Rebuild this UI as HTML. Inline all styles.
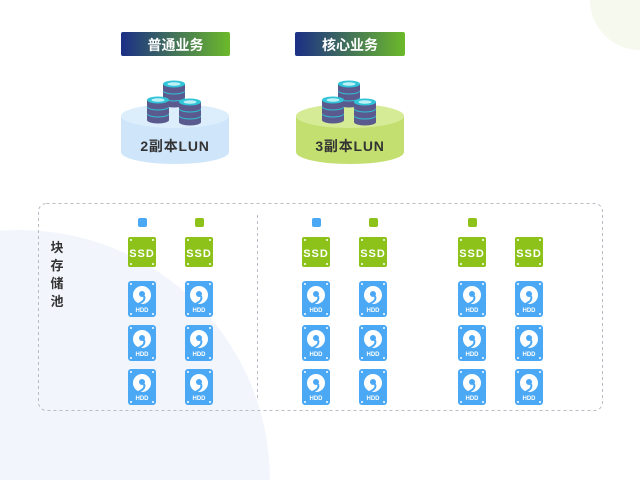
<!DOCTYPE html>
<html><head><meta charset="utf-8"><style>
html,body{margin:0;padding:0;width:640px;height:480px;overflow:hidden;background:#fff;font-family:"Liberation Sans","Noto Sans CJK SC",sans-serif}
svg{display:block}
</style></head><body>
<svg width="640" height="480" viewBox="0 0 640 480" xmlns="http://www.w3.org/2000/svg" font-family="Liberation Sans, Noto Sans CJK SC, sans-serif">
<defs>
<linearGradient id="g" x1="0" x2="1"><stop offset="0" stop-color="#1b2f86"/><stop offset="1" stop-color="#6cb92a"/></linearGradient>
<g id="disc"><path d="M-11,0 v6 a11,3.5 0 0 0 22,0 v-6z" fill="#5b5a8e"/><ellipse cx="0" cy="0" rx="11" ry="3.5" fill="#2fc4d8"/><ellipse cx="0" cy="0" rx="6.5" ry="1.8" fill="#bff0f6"/></g>
<g id="stack"><use href="#disc" y="14"/><use href="#disc" y="7"/><use href="#disc" y="0"/></g>
<g id="ssd"><rect x="-14" y="0" width="28" height="30" rx="2" fill="#8cc21a"/><circle cx="-11" cy="3" r="1" fill="#fff"/><circle cx="11" cy="3" r="1" fill="#fff"/><circle cx="-11" cy="27" r="1" fill="#fff"/><circle cx="11" cy="27" r="1" fill="#fff"/><text x="0" y="20" font-size="11" font-weight="bold" fill="#fff" text-anchor="middle" letter-spacing="1">SSD</text></g>
<g id="hdd"><rect x="-14" y="0" width="28" height="36" rx="3" fill="#4aa8f5"/><circle cx="-11" cy="3" r="1" fill="#fff"/><circle cx="11" cy="3" r="1" fill="#fff"/><circle cx="-11" cy="33" r="1" fill="#fff"/><circle cx="11" cy="33" r="1" fill="#fff"/><circle cx="0" cy="14" r="9" fill="#fff"/><circle cx="0" cy="13" r="3" fill="#4aa8f5"/><path d="M2,15 q2,5 -6,8" stroke="#4aa8f5" stroke-width="2" fill="none"/><text x="0" y="31" font-size="6" font-weight="bold" fill="#fff" text-anchor="middle">HDD</text></g>
</defs>
<path d="M0,230.8 A250,250 0 0 1 270,480 L0,480Z" fill="#f2f6fc"/>
<path d="M590,0 A50,50 0 0 0 640,50 L640,0Z" fill="#f6f9ee"/>
<rect x="121" y="32" width="109" height="24" rx="2" fill="url(#g)"/>
<text x="175.5" y="50" font-size="14" font-weight="bold" fill="#fff" text-anchor="middle">普通业务</text>
<rect x="295" y="32" width="110" height="24" rx="2" fill="url(#g)"/>
<text x="350" y="50" font-size="14" font-weight="bold" fill="#fff" text-anchor="middle">核心业务</text>
<path d="M121,116 v36 a54,12 0 0 0 108,0 v-36z" fill="#cfe5fa"/><ellipse cx="175" cy="116" rx="54" ry="12" fill="#dcedfc"/>
<path d="M296,116 v36 a54,12 0 0 0 108,0 v-36z" fill="#c3df70"/><ellipse cx="350" cy="116" rx="54" ry="12" fill="#d6eb95"/>
<use href="#stack" x="174" y="84"/><use href="#stack" x="158" y="100"/><use href="#stack" x="190" y="102"/>
<use href="#stack" x="349" y="84"/><use href="#stack" x="333" y="100"/><use href="#stack" x="365" y="102"/>
<text x="175" y="151" font-size="14" font-weight="bold" fill="#333" text-anchor="middle" letter-spacing="0.8">2副本LUN</text>
<text x="350" y="151" font-size="14" font-weight="bold" fill="#333" text-anchor="middle" letter-spacing="0.8">3副本LUN</text>
<rect x="38.5" y="203.5" width="564" height="207" rx="8" fill="none" stroke="#b8bcc4" stroke-dasharray="3,3"/>
<line x1="257.5" y1="215" x2="257.5" y2="400" stroke="#b8bcc4" stroke-dasharray="3,3"/>
<g font-size="13" font-weight="bold" fill="#333" text-anchor="middle"><text x="57" y="252">块</text><text x="57" y="270">存</text><text x="57" y="288">储</text><text x="57" y="306">池</text></g>
<rect x="138" y="218" width="9" height="9" rx="2" fill="#4aa8f5"/><rect x="195" y="218" width="9" height="9" rx="2" fill="#8cc21a"/>
<rect x="312" y="218" width="9" height="9" rx="2" fill="#4aa8f5"/><rect x="369" y="218" width="9" height="9" rx="2" fill="#8cc21a"/>
<rect x="468" y="218" width="9" height="9" rx="2" fill="#8cc21a"/>
<g>
<use href="#ssd" x="142" y="237"/><use href="#ssd" x="199" y="237"/><use href="#ssd" x="316" y="237"/><use href="#ssd" x="373" y="237"/><use href="#ssd" x="472" y="237"/><use href="#ssd" x="529" y="237"/>
<use href="#hdd" x="142" y="281"/><use href="#hdd" x="199" y="281"/><use href="#hdd" x="316" y="281"/><use href="#hdd" x="373" y="281"/><use href="#hdd" x="472" y="281"/><use href="#hdd" x="529" y="281"/>
<use href="#hdd" x="142" y="325"/><use href="#hdd" x="199" y="325"/><use href="#hdd" x="316" y="325"/><use href="#hdd" x="373" y="325"/><use href="#hdd" x="472" y="325"/><use href="#hdd" x="529" y="325"/>
<use href="#hdd" x="142" y="369"/><use href="#hdd" x="199" y="369"/><use href="#hdd" x="316" y="369"/><use href="#hdd" x="373" y="369"/><use href="#hdd" x="472" y="369"/><use href="#hdd" x="529" y="369"/>
</g>
</svg>
</body></html>
